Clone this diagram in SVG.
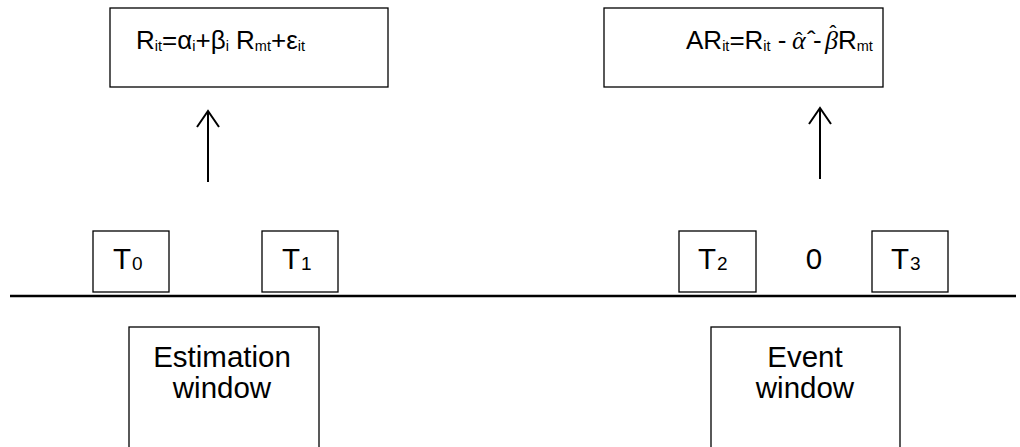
<svg xmlns="http://www.w3.org/2000/svg" width="1020" height="447" viewBox="0 0 1020 447">
  <style>
    .box { fill: #ffffff; stroke: #000000; stroke-width: 1.3; }
    .lbl { font-family: "Liberation Sans", Arial, sans-serif; fill: #000000; }
    .eq { font-size: 26px; }
    .big { font-size: 29.5px; }
    .sub { font-size: 14.5px; }
    .tsub { font-size: 19px; }
    .mi { font-family: "Liberation Serif", "DejaVu Serif", serif; font-style: italic; }
    .hat { font-family: "Liberation Sans", Arial, sans-serif; font-size: 21px; }
    .conn { stroke: #000000; stroke-width: 2; fill: none; }
  </style>

  <!-- model equations -->
  <g id="market-model">
    <rect class="box" x="110" y="8" width="278" height="79"/>
    <text class="lbl eq" x="136" y="49">R<tspan class="sub" dy="2">it</tspan><tspan dy="-2">=α</tspan><tspan class="sub" dy="2">i</tspan><tspan dy="-2">+β</tspan><tspan class="sub" dy="2">i</tspan><tspan dy="-2"> R</tspan><tspan class="sub" dy="2">mt</tspan><tspan dy="-2">+ε</tspan><tspan class="sub" dy="2">it</tspan></text>
  </g>
  <g id="abnormal-return">
    <rect class="box" x="604" y="8" width="279" height="79"/>
    <text class="lbl eq" x="686" y="49">AR<tspan class="sub" dy="2">it</tspan><tspan dy="-2">=R</tspan><tspan class="sub" dy="2">it</tspan><tspan dy="-2"> - </tspan><tspan class="mi" x="792">α</tspan><tspan x="807">ˆ</tspan><tspan x="813">-</tspan><tspan class="mi" x="825">β</tspan><tspan x="838">R</tspan><tspan class="sub" dy="2">mt</tspan></text>
    <text class="lbl hat" x="799" y="47" text-anchor="middle">ˆ</text>
    <text class="lbl hat" x="833" y="40" text-anchor="middle">ˆ</text>
  </g>

  <!-- time points -->
  <g id="t0">
    <rect class="box" x="93" y="231" width="76" height="61"/>
    <text class="lbl big" x="113" y="269">T<tspan class="tsub" dx="1" dy="1">0</tspan></text>
  </g>
  <g id="t1">
    <rect class="box" x="262" y="231" width="76" height="61"/>
    <text class="lbl big" x="282" y="269">T<tspan class="tsub" dx="1" dy="1">1</tspan></text>
  </g>
  <g id="t2">
    <rect class="box" x="679" y="231" width="77" height="61"/>
    <text class="lbl big" x="698" y="269">T<tspan class="tsub" dx="1" dy="1">2</tspan></text>
  </g>
  <g id="event-day">
    <text class="lbl big" x="814" y="269" text-anchor="middle">0</text>
  </g>
  <g id="t3">
    <rect class="box" x="872" y="231" width="76" height="61"/>
    <text class="lbl big" x="891" y="269">T<tspan class="tsub" dx="1" dy="1">3</tspan></text>
  </g>

  <!-- windows -->
  <g id="estimation-window">
    <rect class="box" x="129" y="327" width="190" height="130"/>
    <text class="lbl big" x="222" y="367" text-anchor="middle">Estimation</text>
    <text class="lbl big" x="222" y="398" text-anchor="middle">window</text>
  </g>
  <g id="event-window">
    <rect class="box" x="711" y="327" width="189" height="130"/>
    <text class="lbl big" x="805" y="367" text-anchor="middle">Event</text>
    <text class="lbl big" x="805" y="398" text-anchor="middle">window</text>
  </g>

  <!-- timeline and arrows -->
  <g id="connectors">
    <line x1="10" y1="296" x2="1016" y2="296" stroke="#000000" stroke-width="2.6"/>
    <line class="conn" x1="208" y1="182" x2="208" y2="111"/>
    <polyline class="conn" points="197,127 208,111 219,127"/>
    <line class="conn" x1="820" y1="179" x2="820" y2="108"/>
    <polyline class="conn" points="809,124 820,108 831,124"/>
  </g>
</svg>
